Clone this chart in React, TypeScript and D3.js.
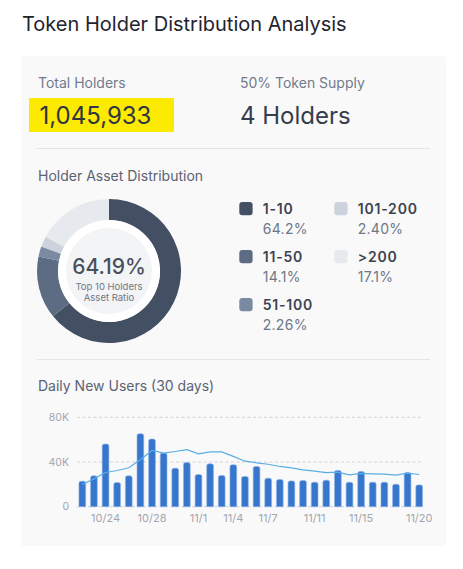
import React from "react";
import * as d3 from "d3";

// daily new users, 10/22 - 11/20
const days = [
  "10/22", "10/23", "10/24", "10/25", "10/26", "10/27", "10/28", "10/29", "10/30", "10/31",
  "11/1", "11/2", "11/3", "11/4", "11/5", "11/6", "11/7", "11/8", "11/9", "11/10",
  "11/11", "11/12", "11/13", "11/14", "11/15", "11/16", "11/17", "11/18", "11/19", "11/20",
];
const newUsers = [
  22800, 27600, 56000, 21600, 27600, 65300, 60500, 48000, 34500, 39600,
  28800, 38400, 27900, 37500, 27000, 36000, 25500, 24300, 23100, 23400,
  21900, 23700, 32500, 21900, 31500, 21900, 21900, 20100, 30600, 19500,
];
const trend = [
  19800, 24900, 30600, 32400, 34800, 42000, 50300, 48000, 49400, 51000,
  47300, 49100, 49100, 45000, 40700, 39300, 38000, 36000, 34800, 33000,
  31900, 30500, 31000, 28500, 29800, 29400, 29100, 28200, 30000, 28800,
];
const dayTicks = ["10/24", "10/28", "11/1", "11/4", "11/7", "11/11", "11/15", "11/20"];
const yTicks = [0, 40000, 80000];

// holder asset distribution
const groups = ["1-10", "11-50", "51-100", "101-200", ">200"];
const shares = [64.2, 14.1, 2.26, 2.4, 17.1];
const shareLabels = ["64.2%", "14.1%", "2.26%", "2.40%", "17.1%"];
const groupColors = ["#434f62", "#5d6b83", "#7a8aa1", "#cdd3dc", "#e6e9ee"];

const FONT = "Inter, 'Noto Sans', sans-serif";

const barPath = (x: number, y: number, w: number, h: number, r: number) => {
  const rr = Math.min(r, w / 2, h);
  return `M${x},${y + h}V${y + rr}Q${x},${y} ${x + rr},${y}H${x + w - rr}Q${x + w},${y} ${x + w},${y + rr}V${y + h}Z`;
};

const App = () => {
  const x = d3.scaleBand<string>().domain(days).range([76.5, 425]).paddingInner(0.42).paddingOuter(0.21);
  const y = d3.scaleLinear().domain([0, 80000]).range([506.7, 417.3]);
  const fmt = (v: number) => (v === 0 ? "0" : `${v / 1000}K`);

  const line = d3
    .line<number>()
    .x((_, i) => (x(days[i]) as number) + x.bandwidth() / 2)
    .y((d) => y(d));

  const pie = d3.pie<number>().sort(null).value((d) => d);
  const arc = d3.arc<d3.PieArcDatum<number>>().innerRadius(51).outerRadius(72);
  const cx = 109;
  const cy = 271;

  const legendPos = [
    [239.3, 202],
    [239.3, 250],
    [239.3, 298],
    [334.3, 202],
    [334.3, 250],
  ];

  return (
    <svg
      width={463}
      height={569}
      style={{ position: "absolute", left: 0, top: 0, display: "block", background: "#fff" }}
      fontFamily={FONT}
    >
      <text x={22} y={31} fontSize={20} fill="#1f2430">
        Token Holder Distribution Analysis
      </text>

      <rect x={21} y={56} width={425} height={490} rx={3} fill="#f9f9f9" />

      {/* summary */}
      <text x={38} y={88} fontSize={14} fill="#727b8c">Total Holders</text>
      <text x={240} y={88} fontSize={14} fill="#727b8c">50% Token Supply</text>
      <rect x={29} y={98} width={145} height={34} fill="#fcea00" />
      <text x={39.5} y={124} fontSize={24} fill="#2f3542">1,045,933</text>
      <text x={240} y={124} fontSize={24} fill="#353c4a">4 Holders</text>
      <line x1={37} x2={430} y1={148.5} y2={148.5} stroke="#e4e5e8" />

      {/* donut */}
      <text x={38} y={181} fontSize={14} fill="#5b6272">Holder Asset Distribution</text>
      <g transform={`translate(${cx},${cy})`}>
        {pie(shares).map((d, i) => (
          <path key={groups[i]} d={arc(d) as string} fill={groupColors[i]} />
        ))}
        <circle r={51} fill="#fff" />
        <circle r={43} fill="#f3f4f6" />
        <text y={3} textAnchor="middle" fontSize={21} fontWeight={500} fill="#4a4f5c">64.19%</text>
        <text y={18.5} textAnchor="middle" fontSize={9.5} fill="#6e7686">Top 10 Holders</text>
        <text y={29.5} textAnchor="middle" fontSize={9.5} fill="#6e7686">Asset Ratio</text>
      </g>
      {groups.map((g, i) => (
        <g key={g} transform={`translate(${legendPos[i][0]},${legendPos[i][1]})`}>
          <rect width={13.3} height={13.3} rx={3} fill={groupColors[i]} />
          <text x={23.4} y={12} fontSize={14} fontWeight={600} letterSpacing={0.8} fill="#3c4350">{g}</text>
          <text x={23.4} y={32} fontSize={14} letterSpacing={0.3} fill="#6f7787">{shareLabels[i]}</text>
        </g>
      ))}
      <line x1={37} x2={430} y1={359.5} y2={359.5} stroke="#e4e5e8" />

      {/* daily new users */}
      <text x={38} y={391} fontSize={14} fill="#5b6272">Daily New Users (30 days)</text>
      {yTicks.map((t) => (
        <g key={t}>
          <line x1={77} x2={422} y1={y(t)} y2={y(t)} stroke="#d3d3d6" strokeDasharray="3 2.5" />
          <text x={69} y={y(t) + 3.5} textAnchor="end" fontSize={10.5} fill="#a3a6b0">{fmt(t)}</text>
        </g>
      ))}
      {newUsers.map((v, i) => (
        <path
          key={days[i]}
          d={barPath(x(days[i]) as number, y(v), x.bandwidth(), y(0) - y(v), 2)}
          fill="#3676cc"
          stroke="#8fb3e6"
          strokeWidth={0.6}
        />
      ))}
      <path d={line(trend) as string} fill="none" stroke="#5aaee6" strokeWidth={1.2} />
      {dayTicks.map((t) => (
        <text
          key={t}
          x={(x(t) as number) + x.bandwidth() / 2}
          y={522}
          textAnchor="middle"
          fontSize={11}
          fill="#a3a6b0"
        >
          {t}
        </text>
      ))}
    </svg>
  );
};

export default App;
